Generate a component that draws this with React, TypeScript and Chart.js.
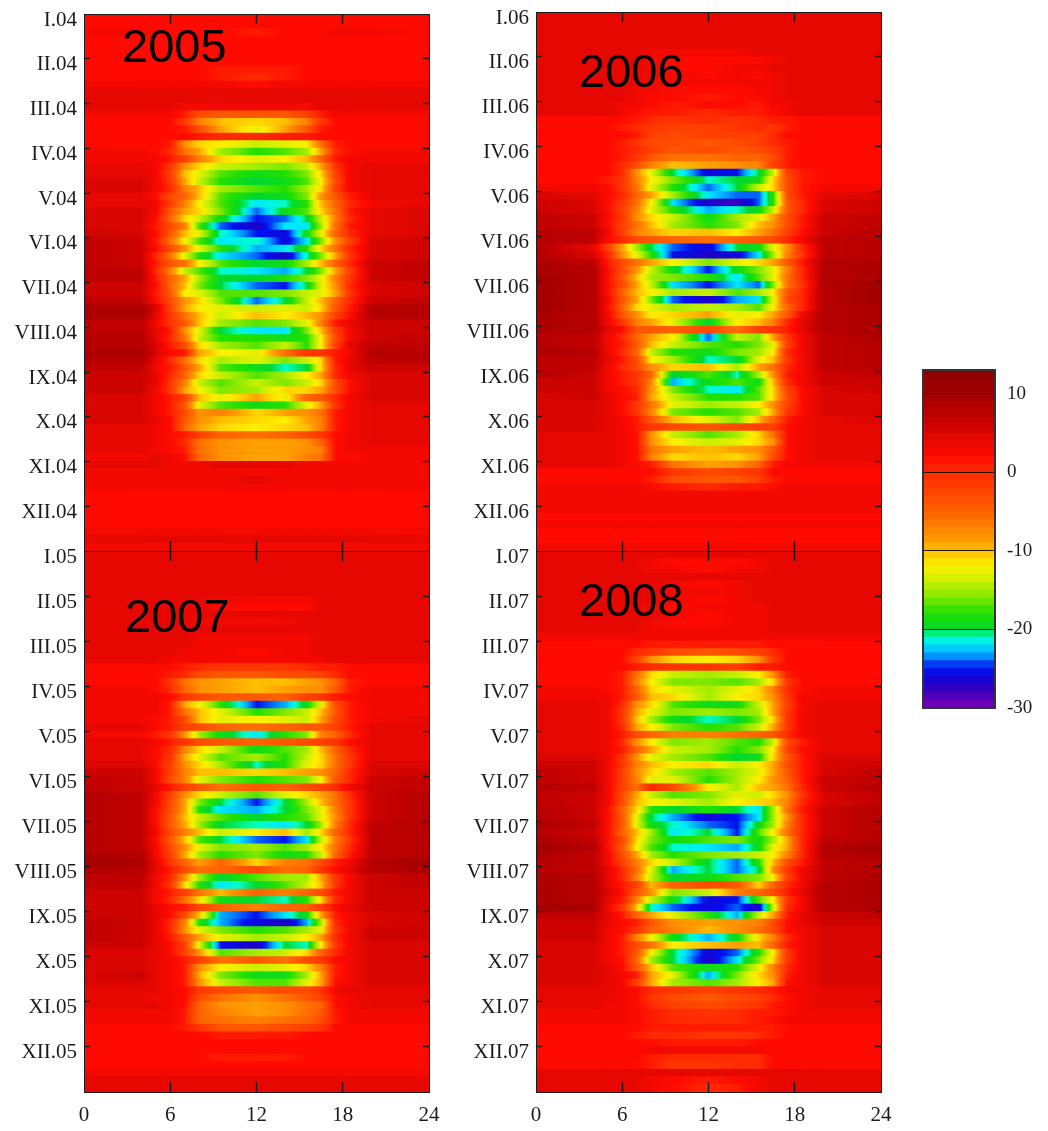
import React, { useEffect, useRef } from "react";
import { Chart, registerables } from "chart.js";

Chart.register(...registerables);

// Hours of the day at which every row below is read (15 readings per row).
const HOUR_KNOTS = [0, 4, 5, 6, 7, 8, 9.5, 12, 14, 15.5, 16.5, 17.5, 18.5, 20, 24];
const HOUR_MAX = 24;
const MONTH_COUNT = 12;

const LABELS_04 = ["I.04", "II.04", "III.04", "IV.04", "V.04", "VI.04", "VII.04", "VIII.04", "IX.04", "X.04", "XI.04", "XII.04"];
const LABELS_05 = ["I.05", "II.05", "III.05", "IV.05", "V.05", "VI.05", "VII.05", "VIII.05", "IX.05", "X.05", "XI.05", "XII.05"];
const LABELS_06 = ["I.06", "II.06", "III.06", "IV.06", "V.06", "VI.06", "VII.06", "VIII.06", "IX.06", "X.06", "XI.06", "XII.06"];
const LABELS_07 = ["I.07", "II.07", "III.07", "IV.07", "V.07", "VI.07", "VII.07", "VIII.07", "IX.07", "X.07", "XI.07", "XII.07"];

const COLORBAR_LEVELS = [-30, -29, -28, -27, -26, -25, -24, -23, -22, -21, -20, -19, -18, -17, -16, -15, -14, -13, -12, -11, -10, -9, -8, -7, -6, -5, -4, -3, -2, -1, 0, 1, 2, 3, 4, 5, 6, 7, 8, 9, 10, 11, 12];

// Colour scale: [value, colour].
const COLOR_STOPS: [number, number[]][] = [
  [-30, [122, 0, 176]], [-27, [30, 0, 200]], [-25, [0, 16, 240]], [-23.5, [0, 144, 255]], [-22, [0, 232, 255]],
  [-21, [0, 255, 200]], [-20, [0, 216, 48]], [-18, [32, 224, 0]], [-16, [128, 232, 0]], [-14, [200, 240, 0]],
  [-12, [255, 240, 0]], [-10, [255, 190, 0]], [-9, [255, 160, 0]], [-6, [255, 112, 0]], [-3, [255, 74, 0]],
  [0, [255, 42, 0]], [2, [255, 10, 0]], [4, [230, 8, 0]], [7, [192, 0, 0]], [10, [163, 0, 0]], [13, [138, 0, 0]],
];

// A row that is one number is the same at all hours.
type Row = number | number[];

const ROWS_2005: Row[] = [
  // I
  2, 2, [3, 3, 2, 2, 2, 2, 2, 1, 2, 2, 2, 3, 3, 3, 2], 2, 2, 2,
  // II
  2, [2, 2, 2, 2, 2, 2, 1, 1, 1, 2, 2, 2, 2, 2, 2], [2, 2, 2, 2, 2, 2, 1, 0, 1, 2, 2, 2, 2, 2, 2], [3, 3, 3, 3, 3, 3, 3, 2, 3, 3, 3, 3, 3, 3, 3], 4, 4,
  // III
  [4, 4, 4, 4, 3, 3, 3, 3, 3, 3, 4, 4, 4, 4, 4], [3, 3, 3, 3, 1, -3, -4, -4, -4, -2, 1, 3, 3, 3, 3],
  [2, 2, 2, 2, -1, -7, -10, -11, -10, -7, -1, 2, 2, 2, 2], [2, 2, 2, 2, 1, -3, -9, -13, -9, -4, 1, 2, 2, 2, 2],
  [2, 2, 2, 2, 2, 1, 0, 0, 1, 1, 2, 2, 2, 2, 2], [2, 2, 2, 1, -8, -11, -12, -14, -13, -12, -6, 1, 2, 2, 2],
  // IV
  [3, 3, 2, 0, -6, -9, -15, -18, -17, -15, -9, 0, 2, 3, 3], [3, 3, 3, 1, -2, -7, -11, -13, -12, -10, -5, 1, 3, 3, 3],
  [4, 4, 3, -1, -8, -11, -14, -15, -16, -14, -9, -1, 3, 4, 4], [4, 4, 3, -2, -10, -13, -17, -19, -18, -16, -11, -2, 3, 4, 4],
  [5, 5, 3, -1, -9, -14, -18, -20, -19, -17, -12, -3, 3, 4, 4], [5, 5, 3, 0, -7, -10, -15, -17, -18, -15, -11, -2, 3, 4, 4],
  // V
  [4, 4, 2, -3, -5, -10, -17, -20, -19, -16, -8, -4, 1, 4, 4], [4, 4, 3, -2, -7, -12, -17, -22, -21, -18, -10, -5, 0, 3, 4],
  [5, 5, 3, -4, -9, -11, -16, -24, -19, -17, -11, -6, 1, 4, 5], [5, 5, 2, -5, -11, -14, -19, -25, -24, -20, -14, -7, 0, 4, 5],
  [5, 5, 1, -3, -7, -17, -24, -27, -22, -22, -15, -6, 1, 4, 5], [6, 5, 2, -4, -10, -13, -21, -25, -26, -19, -13, -5, 0, 4, 5],
  // VI
  [7, 6, 1, -6, -12, -17, -22, -21, -26, -22, -16, -8, -2, 5, 6], [7, 6, 2, -3, -8, -13, -18, -23, -22, -18, -11, -6, 0, 5, 6],
  [7, 6, 0, -6, -13, -18, -22, -24, -27, -21, -16, -9, -1, 5, 6], [7, 6, 1, -4, -6, -12, -17, -20, -19, -15, -10, -5, 0, 6, 7],
  [7, 7, 0, -7, -14, -17, -21, -22, -23, -20, -16, -9, -2, 6, 7], [7, 7, 1, -5, -9, -15, -20, -20, -18, -16, -13, -7, -1, 6, 7],
  // VII
  [6, 6, 2, -5, -10, -16, -20, -24, -25, -20, -13, -8, 0, 5, 6], [6, 6, 1, -4, -12, -13, -17, -17, -16, -14, -13, -9, -1, 5, 6],
  [7, 7, 2, -3, -8, -11, -16, -24, -20, -14, -10, -5, 0, 6, 7], [9, 9, 5, -2, -9, -12, -13, -14, -13, -14, -11, -4, 1, 8, 8],
  [9, 9, 4, -1, -6, -10, -14, -10, -12, -10, -8, -2, 2, 8, 8], [7, 7, 3, -1, -4, -10, -15, -17, -16, -13, -7, 1, 4, 6, 6],
  // VIII
  [7, 7, 4, 1, -8, -13, -20, -22, -22, -16, -10, -2, 3, 6, 6], [8, 8, 4, 0, -6, -14, -18, -18, -19, -18, -12, -3, 3, 6, 7],
  [8, 8, 5, 1, -3, -11, -15, -17, -14, -18, -12, -2, 4, 7, 7], [9, 9, 5, 2, 1, -9, -12, -13, -6, -1, -1, 1, 3, 8, 8],
  [8, 8, 4, 0, -6, -11, -15, -13, -16, -14, -11, 1, 4, 7, 8], [7, 7, 3, 1, -4, -9, -17, -19, -21, -20, -11, 0, 4, 6, 6],
  // IX
  [6, 6, 4, 0, -5, -11, -14, -17, -15, -12, -9, 0, 3, 5, 5], [6, 6, 4, -1, -7, -14, -17, -14, -16, -14, -11, -3, 2, 5, 5],
  [6, 6, 3, -1, -9, -12, -16, -15, -11, -11, -9, -3, 2, 5, 5], [5, 5, 3, 1, -2, -10, -13, -9, -13, -5, -4, 0, 3, 5, 5],
  [5, 5, 3, 1, -4, -13, -17, -19, -18, -13, -9, -1, 3, 4, 4], [5, 5, 3, 1, -3, -8, -7, -11, -9, -8, -6, 1, 3, 4, 4],
  // X
  [5, 5, 4, 2, -4, -8, -10, -11, -12, -9, -7, 1, 3, 4, 4], [4, 4, 3, 2, -5, -9, -11, -12, -11, -10, -7, 1, 3, 4, 4],
  [4, 4, 3, 2, 1, -2, -5, -6, -5, -3, -1, 2, 3, 4, 4], [4, 4, 3, 2, 0, -6, -8, -9, -9, -8, -5, 2, 3, 4, 4],
  [4, 4, 3, 2, 1, -6, -8, -9, -9, -8, -7, 2, 3, 3, 3], [3, 3, 4, 3, 2, -5, -8, -9, -9, -7, -6, 2, 2, 3, 3],
  // XI
  [4, 4, 4, 3, 3, 3, 4, 4, 4, 3, 3, 3, 3, 3, 3], 3, [3, 3, 3, 3, 3, 3, 3, 4, 3, 3, 3, 3, 3, 3, 3], 3, 2, 2,
  // XII
  2, 2, 2, 3, 4, 3,
];

const ROWS_2006: Row[] = [
  // I
  4, 4, 4, 4, 4, [4, 4, 4, 4, 4, 3, 3, 3, 3, 4, 4, 4, 4, 4, 4],
  // II
  [4, 4, 4, 4, 4, 3, 2, 2, 2, 2, 3, 4, 4, 4, 4], [4, 4, 4, 4, 4, 3, 2, 2, 3, 3, 4, 4, 4, 4, 4],
  [4, 4, 4, 4, 4, 3, 3, 2, 3, 2, 3, 4, 4, 4, 4], [4, 4, 4, 4, 4, 3, 3, 3, 3, 3, 3, 4, 4, 4, 4],
  [4, 4, 4, 4, 3, 3, 2, 2, 2, 3, 3, 4, 4, 4, 4], [4, 4, 4, 4, 3, 2, 2, 1, 2, 2, 3, 4, 4, 4, 4],
  // III
  [4, 4, 4, 3, 3, 2, 1, 2, 2, 1, 3, 3, 4, 4, 4], [4, 4, 4, 3, 2, 1, 1, 0, 1, 1, 2, 3, 4, 4, 4],
  [2, 2, 2, 2, 1, 0, -1, 0, -1, 0, 1, 1, 2, 2, 2], [2, 2, 2, 1, 0, -1, -2, -2, -1, 0, -1, 1, 2, 2, 2],
  [2, 2, 2, 2, 1, -2, -3, -2, -2, -2, 0, 2, 2, 2, 2], [2, 2, 2, 1, -1, -3, -3, -4, -3, -2, 0, 1, 2, 2, 2],
  // IV
  [2, 2, 2, 1, 0, -2, -4, -3, -4, -3, -2, 1, 2, 2, 2], [2, 2, 2, 1, -1, -4, -6, -6, -5, -5, -3, 1, 2, 2, 2],
  [2, 2, 2, 0, -3, -7, -10, -9, -8, -7, -2, 1, 2, 2, 2], [2, 2, 2, 0, -8, -13, -20, -26, -25, -20, -14, -2, 1, 2, 2],
  [2, 2, 1, -1, -7, -12, -16, -21, -20, -19, -11, -3, 1, 2, 2], [3, 3, 2, -1, -6, -13, -18, -24, -20, -14, -11, -3, 1, 3, 3],
  // V
  [5, 4, 2, 0, -5, -9, -15, -22, -24, -24, -18, -3, 1, 4, 5], [6, 5, 2, -1, -6, -12, -22, -27, -28, -24, -18, -4, 0, 5, 6],
  [6, 5, 2, -2, -7, -13, -18, -23, -21, -19, -14, -4, 0, 5, 6], [7, 6, 2, -1, -8, -11, -14, -19, -15, -13, -9, -3, 1, 6, 7],
  [7, 6, 2, -2, -6, -10, -15, -18, -16, -10, -8, -3, 1, 6, 7], [8, 7, 3, -2, -7, -9, -11, -10, -12, -9, -6, -2, 2, 6, 8],
  // VI
  [8, 7, 2, 0, -3, -4, -5, -6, -5, -4, -3, 0, 3, 7, 8], [8, 4, -2, -9, -15, -20, -24, -26, -20, -19, -13, -8, 0, 7, 8],
  [8, 5, 0, -8, -13, -18, -25, -27, -26, -22, -15, -7, -1, 7, 8], [9, 7, 1, -3, -6, -9, -12, -16, -13, -11, -9, -4, 1, 8, 9],
  [9, 8, 2, -3, -8, -14, -19, -25, -19, -16, -13, -7, 0, 8, 9], [10, 8, 2, -4, -10, -15, -16, -18, -22, -17, -13, -6, 0, 8, 9],
  // VII
  [10, 8, 2, -3, -9, -14, -22, -25, -22, -24, -16, -6, -1, 8, 10], [10, 8, 2, -5, -10, -12, -15, -14, -17, -15, -12, -4, 0, 8, 10],
  [10, 8, 3, -4, -9, -16, -24, -27, -23, -22, -13, -3, 0, 8, 10], [10, 8, 2, -5, -11, -13, -15, -14, -15, -17, -12, -5, 0, 8, 9],
  [9, 8, 3, -4, -8, -12, -11, -9, -13, -12, -9, -4, 3, 8, 9], [9, 8, 3, -1, -7, -9, -13, -20, -12, -10, -7, 0, 4, 8, 9],
  // VIII
  [9, 8, 4, 2, -4, -4, -5, -3, -6, -2, -1, 1, 4, 8, 9], [8, 7, 3, 0, -5, -9, -12, -24, -14, -16, -9, -1, 3, 7, 9],
  [8, 7, 3, 1, -4, -10, -14, -17, -18, -16, -13, -2, 3, 7, 8], [9, 8, 3, 0, -5, -14, -18, -19, -16, -15, -12, 0, 3, 7, 8],
  [7, 7, 4, 1, -3, -12, -15, -21, -20, -13, -10, -1, 3, 7, 8], [7, 7, 3, 0, -3, -8, -11, -10, -15, -9, -6, 0, 3, 7, 8],
  // IX
  [8, 6, 3, 1, -1, -5, -20, -17, -21, -15, -8, 1, 3, 6, 7], [6, 6, 3, 1, -1, -7, -23, -19, -17, -19, -10, 0, 3, 6, 6],
  [6, 6, 3, 2, 0, -8, -16, -21, -22, -17, -11, -2, 2, 5, 6], [5, 6, 4, 2, 1, -9, -14, -18, -18, -17, -11, -3, 2, 5, 5],
  [5, 5, 4, 2, -1, -6, -13, -15, -14, -12, -8, -2, 2, 5, 5], [5, 5, 4, 2, -1, -7, -16, -18, -17, -15, -9, -1, 2, 5, 5],
  // X
  [5, 5, 4, 3, 1, -4, -10, -13, -16, -10, -5, 1, 3, 4, 5], [5, 5, 4, 3, 1, -1, -3, -4, -3, -2, -2, 2, 3, 4, 4],
  [4, 4, 4, 3, 2, -8, -14, -17, -15, -11, -6, 2, 3, 4, 4], [4, 4, 4, 3, 2, -8, -12, -14, -13, -11, -8, 2, 3, 4, 4],
  [4, 4, 4, 3, 2, -6, -9, -10, -9, -8, -4, 2, 3, 4, 4], [4, 4, 4, 3, 2, -7, -11, -10, -11, -9, -3, 2, 3, 4, 4],
  // XI
  [4, 4, 4, 3, 2, 1, -6, -9, -8, -5, 1, 3, 3, 3, 3], [2, 2, 2, 2, 2, 2, -1, -3, -2, -1, 2, 2, 2, 2, 2],
  [2, 2, 2, 2, 2, 1, -3, -4, -4, -2, 1, 2, 2, 2, 2], [3, 3, 3, 3, 3, 2, 1, 0, 1, 1, 2, 3, 3, 3, 3], 3, 3,
  // XII
  3, 2, 3, 2, 2, 3,
];

const ROWS_2007: Row[] = [
  // I
  4, 4, 4, 4, 4, 4,
  // II
  [4, 4, 4, 4, 4, 4, 3, 3, 3, 3, 4, 4, 4, 4, 4], [4, 4, 4, 4, 4, 4, 2, 2, 2, 2, 4, 4, 4, 4, 4], 4,
  [4, 4, 4, 4, 4, 3, 3, 3, 3, 4, 4, 4, 4, 4, 4], 4, [4, 4, 4, 4, 4, 3, 3, 3, 3, 3, 4, 4, 4, 4, 4],
  // III
  [4, 4, 4, 4, 4, 3, 3, 3, 3, 3, 4, 4, 4, 4, 4], [4, 4, 4, 4, 3, 3, 3, 2, 3, 3, 4, 4, 4, 4, 4],
  [4, 4, 4, 3, 3, 3, 3, 3, 3, 3, 3, 4, 4, 4, 4], [2, 2, 2, 2, 1, 0, -1, -1, -1, 0, 1, 1, 2, 2, 2],
  [2, 2, 2, 1, 0, -3, -4, -4, -3, -3, -2, 0, 2, 2, 2], [2, 2, 2, -1, -6, -8, -9, -10, -10, -9, -8, -5, 1, 2, 2],
  // IV
  [3, 3, 2, 0, -5, -8, -9, -10, -9, -8, -8, -4, 1, 3, 3], [3, 3, 3, 2, -1, -3, -4, -4, -5, -2, -1, 1, 2, 3, 3],
  [3, 3, 3, 1, -9, -12, -18, -25, -23, -19, -13, -3, 1, 3, 3], [3, 3, 3, 1, -6, -10, -13, -18, -16, -14, -10, -4, 1, 3, 3],
  [3, 3, 2, 1, -3, -10, -13, -12, -13, -14, -9, -3, 1, 3, 4], [4, 4, 2, 1, -2, -3, -5, -6, -5, -4, -4, -2, 1, 4, 4],
  // V
  [3, 3, 1, -1, -8, -15, -19, -22, -18, -16, -7, -5, 0, 4, 4], [4, 4, 3, 1, -1, -3, -4, -5, -4, -3, -2, -1, 2, 4, 4],
  [4, 4, 2, 0, -7, -11, -14, -19, -17, -15, -10, -5, 0, 4, 4], [4, 4, 2, -1, -9, -13, -17, -15, -18, -14, -11, -6, -1, 4, 4],
  [5, 5, 2, -2, -8, -11, -15, -21, -18, -13, -11, -6, -1, 5, 5], [6, 6, 3, -2, -7, -10, -10, -11, -10, -9, -8, -5, 0, 5, 6],
  // VI
  [7, 6, 3, -3, -7, -13, -16, -18, -17, -16, -12, -4, 0, 6, 7], [7, 6, 4, 1, -2, -4, -6, -4, -5, -3, -2, 0, 3, 6, 7],
  [8, 7, 3, -2, -8, -11, -14, -17, -13, -11, -9, -6, 0, 6, 8], [8, 7, 3, -3, -9, -16, -20, -25, -20, -15, -10, -6, -1, 6, 8],
  [8, 7, 2, -3, -9, -18, -22, -23, -20, -16, -13, -7, -1, 6, 8], [8, 7, 2, -4, -10, -14, -17, -20, -18, -17, -13, -8, -1, 6, 8],
  // VII
  [8, 7, 2, -4, -9, -15, -20, -21, -22, -20, -15, -7, 0, 7, 8], [8, 7, 3, -3, -7, -10, -14, -12, -10, -15, -11, -5, 0, 7, 8],
  [8, 7, 2, -4, -10, -17, -20, -24, -25, -22, -14, -7, -1, 7, 8], [8, 7, 3, -3, -8, -13, -16, -15, -17, -15, -12, -6, 0, 7, 8],
  [9, 8, 3, -2, -9, -15, -18, -16, -19, -18, -14, -5, 1, 7, 8], [10, 9, 4, -1, -5, -9, -5, -11, -7, -6, -3, 1, 3, 8, 10],
  // VIII
  [9, 8, 4, 1, -3, -6, -5, -3, -6, -5, -1, 2, 4, 8, 9], [7, 7, 3, 0, -8, -15, -20, -17, -15, -15, -9, -1, 3, 6, 7],
  [7, 7, 3, -1, -11, -18, -22, -20, -17, -14, -10, -1, 3, 6, 7], [6, 6, 3, 1, -2, -6, -10, -5, -7, -5, -3, 1, 3, 6, 6],
  [6, 6, 3, 0, -6, -11, -19, -20, -21, -18, -11, 0, 3, 6, 6], [6, 6, 4, 2, 1, -3, -5, -7, -5, -5, -2, 2, 4, 6, 6],
  // IX
  [6, 6, 4, 2, -3, -10, -23, -25, -22, -19, -9, 1, 3, 5, 6], [7, 6, 4, 0, -7, -18, -23, -26, -27, -23, -15, 0, 3, 5, 6],
  [7, 6, 4, 0, -8, -13, -16, -18, -17, -15, -13, -1, 3, 6, 6], [7, 6, 4, 1, -4, -9, -13, -15, -14, -12, -9, 0, 3, 6, 6],
  [6, 6, 4, 2, -2, -13, -25, -27, -20, -21, -12, -1, 3, 5, 5], [5, 5, 4, 2, -2, -8, -17, -15, -14, -11, -5, 0, 3, 5, 5],
  // X
  [5, 5, 4, 3, 1, -2, -6, -4, -6, -3, -1, 2, 3, 5, 5], [5, 5, 4, 3, 1, -8, -12, -14, -13, -11, -7, 1, 3, 5, 5],
  [5, 6, 4, 3, 1, -9, -16, -19, -19, -15, -9, 1, 3, 5, 5], [5, 5, 4, 3, 1, -8, -14, -17, -17, -13, -9, 2, 3, 5, 5],
  [4, 4, 4, 3, 2, -1, -3, -4, -3, -3, -1, 3, 4, 4, 4], [4, 4, 3, 3, 2, -3, -6, -8, -6, -4, -2, 2, 3, 4, 4],
  // XI
  [4, 4, 4, 3, 2, -5, -8, -9, -8, -6, -5, 2, 3, 4, 4], [3, 3, 3, 3, 1, -5, -7, -9, -8, -6, -4, 1, 3, 3, 3],
  [3, 3, 3, 3, 1, -5, -6, -7, -6, -5, -3, 1, 3, 3, 3], [2, 2, 2, 2, 1, -1, -4, -4, -3, -2, -1, 2, 2, 2, 2],
  [2, 2, 2, 2, 2, 2, 1, 1, 1, 2, 2, 2, 2, 2, 2], 2,
  // XII
  2, [2, 2, 2, 2, 2, 2, 1, 1, 1, 2, 2, 2, 2, 2, 2], 2, 3, 4, 4,
];

const ROWS_2008: Row[] = [
  // I
  4, [4, 4, 4, 4, 4, 3, 2, 2, 2, 3, 4, 4, 4, 4, 4], [4, 4, 4, 4, 4, 3, 3, 2, 3, 3, 4, 4, 4, 4, 4], 4,
  [4, 4, 4, 4, 4, 4, 3, 2, 3, 4, 4, 4, 4, 4, 4], [4, 4, 4, 4, 4, 4, 3, 3, 3, 4, 4, 4, 4, 4, 4],
  // II
  [4, 4, 4, 4, 4, 4, 3, 2, 3, 4, 4, 4, 4, 4, 4], [4, 4, 4, 4, 4, 3, 2, 3, 3, 3, 4, 4, 4, 4, 4],
  [4, 4, 4, 4, 4, 4, 3, 2, 3, 3, 4, 4, 4, 4, 4], [4, 4, 4, 4, 4, 3, 2, 2, 3, 3, 4, 4, 4, 4, 4],
  [4, 4, 4, 4, 4, 3, 3, 3, 3, 3, 4, 4, 4, 4, 4], 3,
  // III
  [2, 2, 2, 2, 2, 1, 1, 1, 1, 1, 2, 2, 2, 2, 2], [2, 2, 2, 2, 0, -1, -3, -4, -3, -2, 0, 2, 2, 2, 2],
  [2, 2, 2, 2, -2, -8, -11, -12, -11, -8, -1, 2, 2, 2, 2], [2, 2, 2, 2, 1, 0, -1, -1, -2, 1, 1, 2, 2, 2, 2],
  [2, 2, 2, 1, -6, -11, -14, -15, -14, -12, -8, 1, 2, 2, 2], [2, 2, 2, 1, -7, -12, -16, -16, -17, -15, -11, -1, 2, 2, 2],
  // IV
  [3, 3, 2, 1, -5, -11, -13, -15, -13, -11, -7, 0, 2, 3, 3], [3, 3, 3, 1, -4, -10, -11, -15, -12, -11, -8, -1, 3, 3, 3],
  [4, 4, 3, 0, -8, -11, -17, -19, -19, -14, -9, -2, 3, 4, 4], [4, 4, 3, -1, -9, -13, -16, -15, -16, -15, -9, -1, 3, 4, 4],
  [4, 4, 3, -1, -10, -15, -19, -21, -20, -16, -11, -1, 3, 4, 4], [4, 4, 3, 0, -9, -12, -16, -18, -17, -14, -9, -1, 3, 4, 4],
  // V
  [4, 4, 3, 1, -3, -5, -7, -7, -6, -5, -4, 0, 3, 4, 4], [4, 4, 3, 0, -8, -12, -16, -15, -17, -18, -14, -3, 1, 4, 4],
  [4, 4, 3, 1, -5, -9, -14, -15, -18, -16, -12, -2, 2, 4, 4], [5, 5, 3, -1, -8, -13, -15, -17, -20, -19, -11, -4, 1, 5, 5],
  [6, 6, 3, -1, -7, -10, -12, -11, -14, -12, -9, -3, 1, 5, 6], [7, 6, 3, -2, -8, -11, -15, -17, -15, -13, -9, -4, 1, 5, 7],
  // VI
  [7, 6, 3, -2, -7, -13, -13, -18, -15, -12, -8, -5, 1, 6, 7], [8, 7, 3, -2, -6, 0, -3, -12, -15, -10, -9, -6, 0, 6, 8],
  [7, 6, 3, -3, -9, -14, -17, -16, -13, -14, -11, -8, -1, 5, 7], [7, 6, 3, -3, -10, -12, -13, -15, -12, -11, -10, -7, 0, 5, 7],
  [8, 6, 2, -5, -11, -18, -20, -18, -20, -22, -15, -6, 1, 6, 8], [8, 6, 2, -4, -13, -20, -23, -26, -25, -22, -15, -8, 0, 6, 8],
  // VII
  [9, 7, 2, -4, -13, -19, -21, -24, -25, -19, -15, -7, 0, 6, 8], [8, 6, 2, -5, -10, -15, -22, -20, -25, -17, -12, -6, 0, 6, 8],
  [9, 7, 2, -3, -11, -16, -19, -17, -16, -19, -15, -9, 0, 7, 8], [10, 8, 2, -4, -12, -17, -21, -22, -23, -19, -13, -9, 0, 8, 10],
  [9, 7, 3, -3, -9, -15, -18, -16, -15, -14, -12, -7, 0, 8, 9], [8, 7, 3, -2, -7, -11, -14, -20, -24, -18, -10, -3, 1, 7, 8],
  // VIII
  [8, 7, 4, 0, -6, -13, -23, -20, -24, -20, -8, -1, 3, 7, 8], [9, 8, 4, 0, -7, -14, -20, -19, -17, -16, -12, -2, 3, 7, 9],
  [9, 8, 4, 1, -2, -10, -5, -3, -4, -11, -5, 0, 3, 8, 9], [9, 8, 5, 2, -4, -8, -16, -14, -7, -5, -3, 1, 4, 8, 9],
  [9, 8, 4, 1, -7, -14, -19, -26, -25, -17, -12, -1, 3, 8, 9], [10, 9, 3, -1, -10, -21, -24, -26, -24, -27, -14, 0, 3, 8, 9],
  // IX
  [7, 7, 4, 1, -5, -9, -13, -18, -23, -14, -9, 1, 4, 6, 7], [6, 6, 4, 2, 1, -4, -8, -9, -8, -7, -3, 2, 4, 6, 6],
  [6, 6, 3, 2, -1, -5, -7, -10, -8, -6, -3, 2, 3, 5, 5], [6, 6, 3, 1, -7, -12, -19, -23, -19, -11, -7, 0, 3, 5, 5],
  [5, 5, 3, 1, -3, -6, -12, -10, -9, -10, -5, 1, 3, 5, 5], [5, 5, 3, 1, -4, -12, -20, -26, -24, -18, -12, -1, 3, 5, 5],
  // X
  [5, 5, 3, 2, -5, -15, -20, -27, -22, -16, -11, -1, 3, 5, 5], [5, 5, 4, 2, -4, -10, -17, -19, -18, -13, -7, 0, 3, 5, 5],
  [5, 5, 4, 3, 1, -9, -13, -23, -16, -11, -8, 1, 3, 5, 5], [5, 5, 4, 3, -2, -9, -15, -17, -15, -12, -9, 2, 3, 5, 5],
  [4, 4, 4, 3, 2, 0, -1, -2, -1, 0, 1, 3, 3, 4, 4], [4, 4, 4, 3, 2, -1, -3, -4, -3, -2, 0, 2, 3, 4, 4],
  // XI
  [4, 4, 3, 3, 2, 0, -2, -3, -2, -1, 1, 2, 3, 4, 4], [3, 3, 3, 3, 2, 1, 0, -1, 0, 1, 1, 2, 3, 3, 3],
  [3, 3, 3, 3, 2, 1, 0, 0, 0, 1, 2, 3, 3, 3, 3], [2, 2, 2, 2, 2, 1, 1, 1, 1, 1, 1, 2, 2, 2, 2],
  [2, 2, 2, 2, 1, 0, 0, -1, -1, 0, 1, 2, 2, 2, 2], [2, 2, 2, 2, 2, 2, 1, 1, 1, 2, 2, 2, 2, 2, 2],
  // XII
  [2, 2, 2, 2, 2, 3, 3, 3, 3, 3, 2, 2, 2, 2, 2], [2, 2, 2, 2, 2, 1, 0, 0, 0, 0, 2, 2, 2, 2, 2],
  [2, 2, 2, 2, 2, 1, -1, -1, 0, 0, 2, 2, 2, 2, 2], 4,
  [4, 4, 4, 4, 4, 3, 2, 1, 2, 3, 4, 4, 4, 4, 4], [4, 4, 4, 4, 4, 3, 2, 0, 1, 3, 4, 4, 4, 4, 4],
];

const SERIF = "'Liberation Serif', serif";
const INK = "#1c1c1c";

function colorFor(v: number): string {
  const s = COLOR_STOPS;
  if (v <= s[0][0]) return `rgb(${s[0][1].join(",")})`;
  for (let i = 1; i < s.length; i++) {
    if (v <= s[i][0]) {
      const t = (v - s[i - 1][0]) / (s[i][0] - s[i - 1][0]);
      const c = s[i][1].map((b, k) => Math.round(s[i - 1][1][k] + (b - s[i - 1][1][k]) * t));
      return `rgb(${c.join(",")})`;
    }
  }
  return `rgb(${s[s.length - 1][1].join(",")})`;
}

const expandRow = (r: Row): number[] => (Array.isArray(r) ? r : HOUR_KNOTS.map(() => r));

// Stops the axes adding room for labels that hang over the plot's edges.
const noOverhang = (s: any) => {
  s.paddingLeft = 0;
  s.paddingRight = 0;
  s.paddingTop = 0;
  s.paddingBottom = 0;
};

type PanelProps = {
  rows: Row[];
  labels: string[];
  title: string;
  left: number;
  top: number;
  height: number;
  titleX: number;
  titleY: number;
  showHours: boolean;
};

const PLOT_WIDTH = 345;
const LEFT_ROOM = 84;
const RIGHT_ROOM = 16;
const EDGE_ROOM = 8;
const HOUR_ROOM = 36;

function Panel({ rows, labels, title, left, top, height, titleX, titleY, showHours }: PanelProps) {
  const ref = useRef<HTMLCanvasElement>(null);
  const canvasW = LEFT_ROOM + PLOT_WIDTH + RIGHT_ROOM;
  const canvasH = EDGE_ROOM + height + (showHours ? HOUR_ROOM : EDGE_ROOM);

  useEffect(() => {
    const table = rows.map(expandRow);
    const rowStep = MONTH_COUNT / table.length;
    const datasets = HOUR_KNOTS.slice(0, -1).map((h0, c) => ({
      xAxisID: "x",
      yAxisID: "y",
      grouped: false,
      barPercentage: 1,
      categoryPercentage: 1,
      borderWidth: 0,
      inflateAmount: 0.5,
      data: table.map((r, i) => ({ x: [h0, HOUR_KNOTS[c + 1]], y: (i + 0.5) * rowStep })),
      backgroundColor: (ctx: any) => {
        if (ctx.dataIndex === undefined) return "red";
        const sx = ctx.chart.scales.x;
        const r = table[ctx.dataIndex];
        const a = r[c];
        const b = r[c + 1];
        const px0 = sx.getPixelForValue(h0);
        const px1 = sx.getPixelForValue(HOUR_KNOTS[c + 1]);
        if (a === b || !isFinite(px0) || !isFinite(px1) || px1 <= px0) return colorFor(a);
        const g = ctx.chart.ctx.createLinearGradient(px0, 0, px1, 0);
        for (let t = 0; t <= 6; t++) g.addColorStop(t / 6, colorFor(a + ((b - a) * t) / 6));
        return g;
      },
    }));
    const hourTick = (c: any) => (!c.tick || c.tick.value === 0 || c.tick.value === HOUR_MAX ? "transparent" : INK);
    const monthTick = (c: any) => (!c.tick || c.tick.value === 0 || c.tick.value === MONTH_COUNT ? "transparent" : INK);
    const border = { display: true, color: INK, width: 1, z: 2 };
    const chart = new Chart(ref.current!, {
      type: "bar",
      data: { datasets: datasets as any },
      options: {
        indexAxis: "y",
        animation: false,
        responsive: false,
        layout: { padding: { top: EDGE_ROOM, right: RIGHT_ROOM, bottom: showHours ? 0 : EDGE_ROOM, left: 0 } },
        plugins: { legend: { display: false }, tooltip: { enabled: false } },
        scales: {
          x: {
            type: "linear",
            position: "bottom",
            min: 0,
            max: HOUR_MAX,
            offset: false,
            border,
            grid: { z: 2, offset: false, drawOnChartArea: false, tickLength: -10, tickColor: hourTick, tickWidth: 1.5 },
            ticks: {
              display: showHours,
              stepSize: 6,
              padding: 21,
              color: INK,
              maxRotation: 0,
              font: { family: SERIF, size: 21 },
            },
            afterFit: (s: any) => { noOverhang(s); s.height = showHours ? HOUR_ROOM : 0; },
          },
          xTop: {
            type: "linear",
            position: "top",
            min: 0,
            max: HOUR_MAX,
            offset: false,
            border,
            grid: { z: 2, offset: false, drawOnChartArea: false, tickLength: -10, tickColor: hourTick, tickWidth: 1.5 },
            ticks: { display: false, stepSize: 6 },
            afterFit: (s: any) => { noOverhang(s); s.height = 0; },
          },
          y: {
            type: "linear",
            position: "left",
            reverse: true,
            offset: false,
            min: 0,
            max: MONTH_COUNT,
            border,
            grid: { z: 2, offset: false, drawOnChartArea: false, tickLength: -6, tickColor: monthTick, tickWidth: 1.5 },
            ticks: {
              stepSize: 1,
              autoSkip: false,
              padding: 13,
              labelOffset: 6,
              color: INK,
              font: { family: SERIF, size: 21 },
              callback: (v: any) => labels[v] ?? "",
            },
            afterFit: (s: any) => { noOverhang(s); s.width = LEFT_ROOM; },
          },
          yRight: {
            type: "linear",
            position: "right",
            reverse: true,
            offset: false,
            min: 0,
            max: MONTH_COUNT,
            border,
            grid: { z: 2, offset: false, drawOnChartArea: false, tickLength: -6, tickColor: monthTick, tickWidth: 1.5 },
            ticks: { display: false, stepSize: 1 },
            afterFit: (s: any) => { noOverhang(s); s.width = 0; },
          },
        },
      } as any,
    });
    return () => chart.destroy();
  }, [rows, labels, showHours]);

  return (
    <>
      <canvas
        ref={ref}
        width={canvasW}
        height={canvasH}
        style={{ position: "absolute", left: left - LEFT_ROOM, top: top - EDGE_ROOM, width: canvasW, height: canvasH }}
      />
      <div
        style={{
          position: "absolute",
          left: titleX,
          top: titleY,
          font: "47px/47px 'Liberation Sans', sans-serif",
          color: "#000",
        }}
      >
        {title}
      </div>
    </>
  );
}

function Colorbar() {
  const ref = useRef<HTMLCanvasElement>(null);
  useEffect(() => {
    const border = { display: true, color: "#333", width: 2, z: 2 };
    const plainGrid = { drawOnChartArea: false, drawTicks: false };
    const chart = new Chart(ref.current!, {
      type: "bar",
      data: {
        labels: ["dB"],
        datasets: COLORBAR_LEVELS.map((v) => ({
          grouped: false,
          barPercentage: 1,
          categoryPercentage: 1,
          borderWidth: 0,
          inflateAmount: 0.5,
          yAxisID: "y",
          xAxisID: "x",
          data: [[v, v + 1]],
          backgroundColor: colorFor(v + 0.5),
        })) as any,
      },
      options: {
        animation: false,
        responsive: false,
        layout: { padding: { top: 10, left: 0, right: 0, bottom: 12 } },
        plugins: { legend: { display: false }, tooltip: { enabled: false } },
        scales: {
          x: {
            type: "category",
            position: "bottom",
            border,
            grid: plainGrid,
            ticks: { display: false },
            afterFit: (s: any) => { noOverhang(s); s.height = 0; },
          },
          xTop: {
            type: "linear",
            position: "top",
            min: 0,
            max: 1,
            border,
            grid: plainGrid,
            ticks: { display: false },
            afterFit: (s: any) => { noOverhang(s); s.height = 0; },
          },
          yLeft: {
            type: "linear",
            position: "left",
            min: -30,
            max: 13,
            border,
            grid: plainGrid,
            ticks: { display: false },
            afterFit: (s: any) => { noOverhang(s); s.width = 18; },
          },
          y: {
            type: "linear",
            position: "right",
            min: -30,
            max: 13,
            border,
            grid: { z: 1, color: "rgba(20,10,0,0.9)", lineWidth: 1, drawTicks: false },
            ticks: {
              stepSize: 10,
              includeBounds: false,
              padding: 12,
              color: INK,
              font: { family: SERIF, size: 19 },
            },
            afterFit: (s: any) => { noOverhang(s); s.width = 53; },
          },
        },
      } as any,
    });
    return () => chart.destroy();
  }, []);
  return (
    <canvas
      ref={ref}
      width={143}
      height={360}
      style={{ position: "absolute", left: 905, top: 360, width: 143, height: 360 }}
    />
  );
}

export default function App() {
  return (
    <div style={{ position: "absolute", left: 0, top: 0, width: 1048, height: 1131, background: "#fff", overflow: "hidden" }}>
      <Panel rows={ROWS_2005} labels={LABELS_04} title="2005" left={84} top={14} height={537} titleX={122} titleY={22} showHours={false} />
      <Panel rows={ROWS_2006} labels={LABELS_06} title="2006" left={536} top={12} height={539} titleX={579} titleY={47} showHours={false} />
      <Panel rows={ROWS_2007} labels={LABELS_05} title="2007" left={84} top={551} height={541} titleX={125} titleY={592} showHours={true} />
      <Panel rows={ROWS_2008} labels={LABELS_07} title="2008" left={536} top={551} height={541} titleX={579} titleY={576} showHours={true} />
      <Colorbar />
    </div>
  );
}
